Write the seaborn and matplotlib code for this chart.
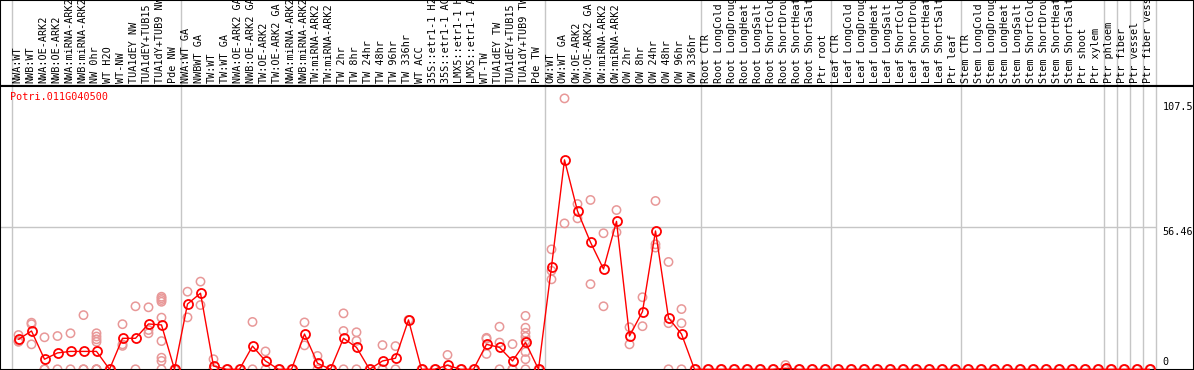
import numpy as np
import pandas as pd
import matplotlib
matplotlib.use("Agg")
import matplotlib.pyplot as plt
import matplotlib.transforms as mtransforms
import seaborn as sns

sns.set_theme(style="white")
plt.rcParams['font.family'] = ['DejaVu Sans Mono', 'DejaVu Sans']

# ---- data ----
gene = "Potri.011G040500"

labels = [
    "NWA:WT", "NWB:WT", "NWA:OE-ARK2", "NWB:OE-ARK2", "NWA:miRNA-ARK2",
    "NWB:miRNA-ARK2", "NW 0hr", "WT H2O", "WT-NW", "TUA1dEY NW",
    "TUA1dEY+TUB15", "TUA1dY+TUB9 NW", "Pde NW",
    "NWA:WT GA", "NWBWT GA", "TW:WT", "TW:WT GA", "NWA:OE-ARK2 GA",
    "NWB:OE-ARK2 GA", "TW:OE-ARK2", "TW:OE-ARK2 GA", "NWA:miRNA-ARK2",
    "NWB:miRNA-ARK2", "TW:miRNA-ARK2", "TW:miRNA-ARK2", "TW 2hr", "TW 8hr",
    "TW 24hr", "TW 48hr", "TW 96hr", "TW 336hr", "WT ACC", "35S::etr1-1 H2",
    "35S::etr1-1 AC", "LMX5::etr1-1 H", "LMX5::etr1-1 A", "WT-TW",
    "TUA1dEY TW", "TUA1dEY+TUB15", "TUA1dY+TUB9 TW", "Pde TW",
    "OW:WT", "OW:WT GA", "OW:OE-ARK2", "OW:OE-ARK2 GA", "OW:miRNA-ARK2",
    "OW:miRNA-ARK2", "OW 2hr", "OW 8hr", "OW 24hr", "OW 48hr", "OW 96hr",
    "OW 336hr",
    "Root CTR", "Root LongCold", "Root LongDroug", "Root LongHeat",
    "Root LongSalt", "Root ShortCold", "Root ShortDrou", "Root ShortHeat",
    "Root ShortSalt", "Ptr root",
    "Leaf CTR", "Leaf LongCold", "Leaf LongDroug", "Leaf LongHeat",
    "Leaf LongSalt", "Leaf ShortCold", "Leaf ShortDrou", "Leaf ShortHeat",
    "Leaf ShortSalt", "Ptr leaf",
    "Stem CTR", "Stem LongCold", "Stem LongDroug", "Stem LongHeat",
    "Stem LongSalt", "Stem ShortCold", "Stem ShortDrou", "Stem ShortHeat",
    "Stem ShortSalt", "Ptr shoot", "Ptr xylem",
    "Ptr phloem", "Ptr fiber", "Ptr vessel", "Ptr fiber vess",
]

means = [
    11.9, 15.2, 4.0, 6.5, 7.1, 7.1, 7.1, 0, 12.3, 12.3, 18.0, 17.6, 0,
    25.9, 30.2, 1.3, 0, 0, 9.2, 3.3, 0, 0, 14.0, 2.4, 0, 12.3, 8.7, 0, 3.3,
    4.4, 19.6, 0, 0, 1.6, 0, 0, 9.9, 8.7, 3.3, 10.7, 0,
    40.7, 83.1, 62.8, 50.4, 39.8, 58.7, 13.2, 22.9, 54.9, 20.4, 14.0, 0,
    0, 0, 0, 0, 0, 0, 0.4, 0, 0, 0,
    0, 0, 0, 0, 0, 0, 0, 0, 0, 0,
    0, 0, 0, 0, 0, 0, 0, 0, 0, 0, 0,
    0, 0, 0, 0,
]

replicates = [
    [13.6, 10.9, 11.2], [18.5, 17.9, 9.9], [12.7, 0, 0], [13.2, 0], [14.3, 0],
    [21.5, 0, 0], [14.3, 13.0, 11.9, 10.9, 0, 0, 0], [0], [17.9, 9.9, 9.3],
    [25.0, 0], [24.6, 15.6, 14.3], [28.8, 28.2, 27.5, 26.8, 20.5, 11.2, 4.6, 3.3, 0],
    [0],
    [30.8, 20.6], [34.8, 25.5], [4.0, 0, 0], [0], [0], [18.8, 0], [7.1, 0],
    [0], [0], [18.6, 9.5], [5.3, 0], [0], [22.2, 15.2, 0], [14.7, 11.3, 0],
    [0], [9.6, 0, 0], [9.2, 0], [19.6], [0], [0], [5.7, 0, 0], [0], [0],
    [12.5, 12.1, 6.1], [16.9, 10.6, 0], [10.0, 0, 0],
    [21.2, 16.5, 14.5, 12.9, 11.3, 6.9, 4.0, 0], [0],
    [47.6, 39.1, 35.7], [107.5, 57.9], [65.6, 59.9], [67.2, 33.8], [54.0, 25.0],
    [63.2, 54.4], [16.7, 9.9], [28.6, 17.1], [66.8, 48.3, 49.6], [42.6, 18.3, 0],
    [23.9, 18.3, 0], [0],
    [0], [0], [0], [0], [0], [0], [1.7, 0, 0, 0], [0], [0], [0],
    [0], [0], [0], [0], [0], [0], [0], [0], [0], [0],
    [0], [0], [0], [0], [0], [0], [0], [0], [0], [0], [0],
    [0], [0], [0], [0],
]

# last category of each block (gray separators after them)
group_ends = [12, 40, 52, 62, 72, 83, 84, 85, 86, 87]

y_marks = [107.5, 56.46, 0]
y_mark_text = ["107.5", "56.46", "0"]

df_mean = pd.DataFrame({'idx': np.arange(len(labels)), 'expr': means})
df_rep = pd.DataFrame({
    'idx': [i for i, r in enumerate(replicates) for _ in r],
    'expr': [v for r in replicates for v in r],
})

# ---- layout (pixel based) ----
W, H = 1194, 370
head_h = 86
px_step, px_first = 13.0, 18.5      # pixels per category, centre of first
px_unit, px_zero = 2.52, 0.7        # pixels per unit, zero above bottom edge

fig = plt.figure(figsize=(W / 100, H / 100), dpi=100)
ax_head = fig.add_axes([0, 1 - head_h / H, 1, head_h / H])
ax = fig.add_axes([0, 0, 1, 1 - head_h / H])

xlim = (-px_first / px_step, (W - px_first) / px_step)
plot_h = H - head_h
for a in (ax, ax_head):
    a.set_xlim(xlim)
    a.set_xticks([])
    a.set_yticks([])
    for s in a.spines.values():
        s.set_visible(True)
        s.set_color('black')
        s.set_linewidth(1.5)
ax.set_ylim(-px_zero / px_unit, (plot_h - px_zero) / px_unit)
ax_head.set_ylim(0, 1)

grid_col = '#c6c6c6'
bounds = [-0.5] + [e + 0.5 for e in group_ends]
for a in (ax, ax_head):
    for b in bounds:
        a.axvline(b, color=grid_col, lw=1, zorder=0)
ax.hlines(y_marks[1], xlim[0], bounds[-1], color=grid_col, lw=1, zorder=0)

# replicates
sns.scatterplot(data=df_rep, x='idx', y='expr', ax=ax, marker='o', s=36,
                facecolor='none', edgecolor='#e89898', linewidth=1.1,
                zorder=2, legend=False)

# means
sns.lineplot(data=df_mean, x='idx', y='expr', ax=ax, color='red', lw=1.0,
             marker='o', markersize=6.5, markerfacecolor='none',
             markeredgecolor='red', markeredgewidth=1.3, sort=False,
             estimator=None, zorder=3)
ax.set_xlabel('')
ax.set_ylabel('')

# header labels
trans = mtransforms.blended_transform_factory(ax_head.transData, ax_head.transAxes)
for i, lab in enumerate(labels):
    ax_head.text(i - 0.1, 0.035, lab, rotation=90, ha='center', va='bottom',
                 transform=trans, fontsize=7.3, color='black')

# gene name
ax.text(10 / W, 1 - 11 / plot_h, gene, transform=ax.transAxes, ha='left',
        va='center', fontsize=7.3, color='red')

# value marks on the right
for v, t, off in zip(y_marks, y_mark_text, [-8.5, -5, 7]):
    ax.annotate(t, xy=(88.0, v), xytext=(0, off), textcoords='offset pixels',
                ha='left', va='center', fontsize=7.3, color='black')

fig.savefig('out.png', dpi=100)
